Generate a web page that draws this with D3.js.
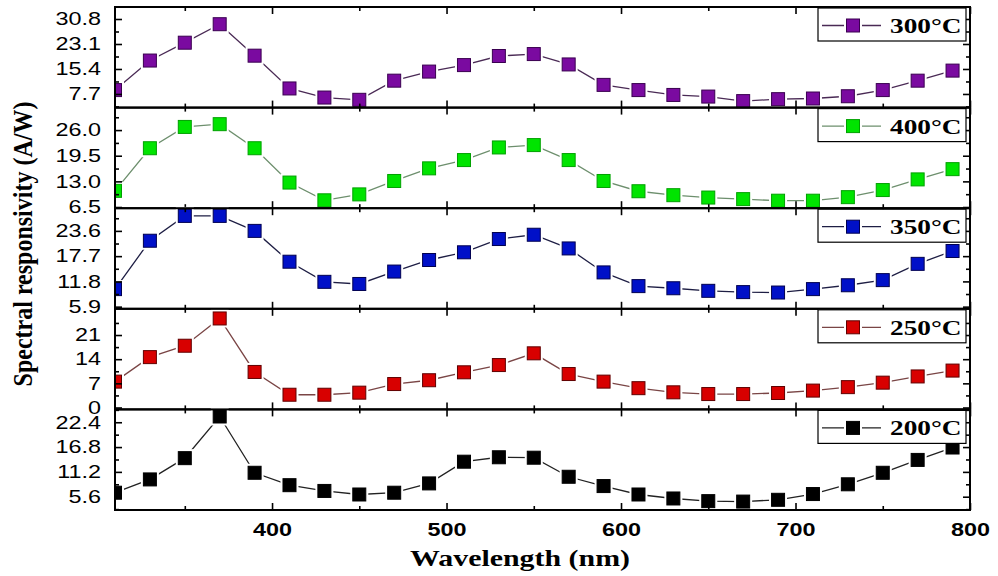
<!DOCTYPE html>
<html>
<head>
<meta charset="utf-8">
<script src="https://cdn.jsdelivr.net/npm/d3@7"></script>
<style>
  body { margin: 0; background: #fff; }
  svg { display: block; }
</style>
</head>
<body>
<div id="chart"></div>
<script>
// wavelengths (nm), one point every 20 nm
const wavelengths = [310, 330, 350, 370, 390, 410, 430, 450, 470, 490, 510, 530, 550,
                     570, 590, 610, 630, 650, 670, 690, 710, 730, 750, 770, 790];

// responsivity per anneal temperature
const r300 = [8.9, 18.0, 23.5, 29.2, 19.5, 9.4, 6.6, 5.9, 11.8, 14.6, 16.6, 19.4, 20.0,
              16.8, 10.5, 8.9, 7.4, 6.9, 5.5, 6.1, 6.3, 7.0, 8.9, 11.8, 14.9];
const r400 = [10.6, 21.4, 26.8, 27.5, 21.4, 12.7, 8.2, 9.7, 13.1, 16.3, 18.4, 21.6, 22.2,
              18.4, 13.1, 10.5, 9.5, 8.9, 8.5, 8.1, 8.1, 9.0, 10.8, 13.5, 16.1];
const r350 = [10.0, 21.3, 27.1, 27.1, 23.6, 16.4, 11.7, 11.2, 14.1, 16.8, 18.6, 21.7, 22.7,
              19.5, 13.9, 10.7, 10.2, 9.6, 9.3, 9.2, 10.0, 10.9, 12.1, 15.9, 18.9];
const r250 = [7.5, 14.6, 17.9, 25.8, 10.3, 3.7, 3.7, 4.3, 6.8, 7.9, 10.2, 12.3, 15.7,
              9.7, 7.5, 5.6, 4.4, 3.9, 3.9, 4.2, 4.9, 5.9, 7.2, 9.0, 10.7];
const r200 = [6.5, 9.5, 14.3, 23.7, 11.0, 8.2, 6.9, 6.1, 6.5, 8.6, 13.5, 14.5, 14.4,
              10.1, 8.0, 6.1, 5.2, 4.6, 4.5, 4.9, 6.2, 8.4, 11.0, 13.9, 16.7];

// panel labels and y tick labels, top to bottom
const labels = ["300°C", "400°C", "350°C", "250°C", "200°C"];
const yTicks = [
  [7.7, 15.4, 23.1, 30.8],
  [6.5, 13.0, 19.5, 26.0],
  [5.9, 11.8, 17.7, 23.6],
  [0, 7, 14, 21],
  [5.6, 11.2, 16.8, 22.4]
];
const yDomains = [[3.5, 34.5], [6.2, 31.7], [5.4, 28.9], [-0.55, 28.6], [2.6, 25.3]];
const xTicks = [400, 500, 600, 700, 800];

const series = [r300, r400, r350, r250, r200];
const fills   = ["#7a0aa0", "#00e400", "#0010c8", "#d80000", "#000000"];
const borders = ["#3a0050", "#00a000", "#000050", "#600000", "#000000"];
const lines   = ["#4a2a55", "#6d8f6d", "#1e1e44", "#7a4545", "#222222"];

const W = 998, H = 576;
const plotLeft = 115, plotRight = 970, plotTop = 7, panelH = 100.6;
const stretch = 1.3; // the original is stretched horizontally

const svg = d3.select("#chart").append("svg")
  .attr("width", W).attr("height", H);

const x = d3.scaleLinear().domain([310, 800]).range([plotLeft, plotRight]);
const xMinor = d3.range(350, 800, 100);

const sans = "'Liberation Sans', Arial, sans-serif";
const serif = "'Liberation Serif', 'Times New Roman', serif";

// one marker with a white halo, so lines stop short of it
function marker(g, cx, cy, i) {
  g.append("rect")
    .attr("x", cx - 9).attr("y", cy - 9).attr("width", 18).attr("height", 18)
    .attr("fill", "#fff");
  g.append("rect")
    .attr("x", cx - 6.5).attr("y", cy - 6.5).attr("width", 13).attr("height", 13)
    .attr("fill", fills[i]).attr("stroke", borders[i]).attr("stroke-width", 1);
}

series.forEach((vals, i) => {
  const y0 = plotTop + i * panelH, y1 = y0 + panelH;
  const y = d3.scaleLinear().domain(yDomains[i]).range([y1, y0]);
  const g = svg.append("g");

  // connecting line
  const line = d3.line().x((d, j) => x(wavelengths[j])).y(d => y(d));
  g.append("path")
    .datum(vals)
    .attr("d", line)
    .attr("fill", "none")
    .attr("stroke", lines[i])
    .attr("stroke-width", 1.3);

  const mg = g.append("g");
  vals.forEach((v, j) => marker(mg, x(wavelengths[j]), y(v), i));

  // white cover left of the frame so the half marker at 310 is cut
  g.append("rect")
    .attr("x", plotLeft - 10).attr("y", y0).attr("width", 10).attr("height", panelH)
    .attr("fill", "#fff");

  // y axes, ticks inward
  const step = yTicks[i][1] - yTicks[i][0];
  const yMinor = d3.range(yTicks[i][0] - step / 2, yDomains[i][1], step)
    .filter(v => v > yDomains[i][0] && v < yDomains[i][1]);

  const yl = g.append("g").attr("transform", `translate(${plotLeft},0)`)
    .call(d3.axisLeft(y).tickValues(yTicks[i]).tickSize(-7).tickPadding(14)
      .tickFormat(d => i === 3 ? d3.format("d")(d) : d3.format(".1f")(d)));
  yl.append("g").call(d3.axisLeft(y).tickValues(yMinor).tickSize(-4).tickFormat(""));
  yl.selectAll(".domain").remove();
  yl.selectAll("text")
    .attr("x", 0)
    .attr("transform", `translate(-14,0) scale(${stretch},1)`)
    .style("font-family", sans).style("font-size", "18px").attr("fill", "#000");

  const yr = g.append("g").attr("transform", `translate(${plotRight},0)`)
    .call(d3.axisRight(y).tickValues(yTicks[i]).tickSize(-7).tickFormat(""));
  yr.append("g").call(d3.axisRight(y).tickValues(yMinor).tickSize(-4).tickFormat(""));
  yr.selectAll(".domain").remove();

  // x ticks on top and bottom of each panel
  const xt = g.append("g").attr("transform", `translate(0,${y0})`)
    .call(d3.axisTop(x).tickValues(xTicks).tickSize(-7).tickFormat(""));
  xt.append("g").call(d3.axisTop(x).tickValues(xMinor).tickSize(-4).tickFormat(""));
  xt.selectAll(".domain").remove();

  const xb = g.append("g").attr("transform", `translate(0,${y1})`)
    .call(d3.axisBottom(x).tickValues(xTicks).tickSize(-7).tickPadding(13)
      .tickFormat(i === 4 ? d3.format("d") : ""));
  xb.append("g").call(d3.axisBottom(x).tickValues(xMinor).tickSize(-4).tickFormat(""));
  xb.selectAll(".domain").remove();
  xb.selectAll("text")
    .attr("x", 0)
    .attr("transform", `scale(${stretch},1)`)
    .style("font-family", sans).style("font-size", "18px").style("font-weight", "bold")
    .attr("fill", "#000");

  g.selectAll(".tick line").attr("stroke", "#000").attr("stroke-width", 1.6);

  // frame
  g.append("rect")
    .attr("x", plotLeft).attr("y", y0).attr("width", plotRight - plotLeft).attr("height", panelH)
    .attr("fill", "none").attr("stroke", "#000").attr("stroke-width", 2);

  // legend
  const lg = g.append("g").attr("transform", `translate(818,${y0 + 1})`);
  lg.append("rect")
    .attr("width", 148).attr("height", 33)
    .attr("fill", "#fff").attr("stroke", "#000").attr("stroke-width", 1.2);
  lg.append("line")
    .attr("x1", 4).attr("x2", 63).attr("y1", 17.5).attr("y2", 17.5)
    .attr("stroke", lines[i]).attr("stroke-width", 1.3);
  marker(lg, 35, 17.5, i);
  lg.append("text")
    .attr("transform", `translate(72,25) scale(${stretch},1)`)
    .style("font-family", serif).style("font-size", "21px").style("font-weight", "bold")
    .text(labels[i]);
});

// axis titles
svg.append("text")
  .attr("transform", `translate(520,566) scale(${stretch},1)`)
  .attr("text-anchor", "middle")
  .style("font-family", serif).style("font-size", "23px").style("font-weight", "bold")
  .text("Wavelength (nm)");

svg.append("text")
  .attr("transform", "translate(32,244) rotate(-90) scale(1,1.15)")
  .attr("text-anchor", "middle")
  .style("font-family", serif).style("font-size", "24px").style("font-weight", "bold")
  .text("Spectral responsivity (A/W)");
</script>
</body>
</html>
